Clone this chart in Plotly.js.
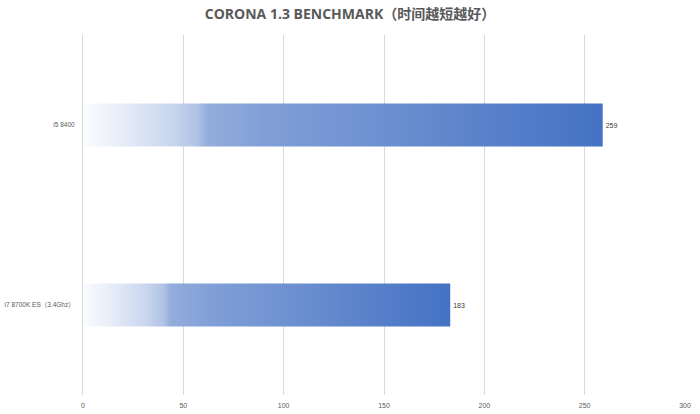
<!DOCTYPE html>
<html>
<head>
<meta charset="utf-8">
<script src="https://cdn.plot.ly/plotly-3.0.1.min.js"></script>
<style>html,body{margin:0;padding:0;background:#fff;}#chart{width:700px;height:414px;}</style>
</head>
<body>
<div id="chart"></div>
<script>
const categories = ['i7 8700K ES（3.4Ghz）', 'i5 8400'];
const times = [183, 259];
const xTicks = [0, 50, 100, 150, 200, 250, 300];
const chartTitle = 'CORONA 1.3 BENCHMARK（时间越短越好）';

const trace = {
  type: 'bar',
  orientation: 'h',
  y: categories,
  x: times,
  text: times.map(String),
  textposition: 'outside',
  cliponaxis: false,
  textfont: {size: 7, color: '#404040', family: 'Liberation Sans, Noto Sans CJK SC'},
  marker: {color: '#4472c4', line: {width: 0}},
  width: 0.24,
  hoverinfo: 'none'
};

const layout = {
  width: 700, height: 414,
  margin: {l: 83, r: 15, t: 35, b: 19},
  paper_bgcolor: '#fff', plot_bgcolor: '#fff',
  showlegend: false,
  title: {
    text: '<b>' + chartTitle + '</b>',
    x: 0.5, xanchor: 'center', y: 0.965, yanchor: 'middle',
    font: {size: 14, color: '#595959', family: 'Open Sans, Noto Sans CJK SC, sans-serif'}
  },
  xaxis: {
    range: [0, 300],
    tickvals: xTicks,
    ticktext: xTicks.map(String),
    showgrid: true, gridcolor: '#d9d9d9', gridwidth: 1,
    zeroline: false, showline: false, ticks: '',
    ticklabelstandoff: 5,
    tickfont: {size: 7, color: '#595959', family: 'Liberation Sans, sans-serif'},
    fixedrange: true
  },
  yaxis: {
    type: 'category',
    showgrid: false, zeroline: false,
    showline: true, linecolor: '#d9d9d9', linewidth: 1,
    ticks: '', ticklabelstandoff: 6,
    tickfont: {size: 6.5, color: '#595959', family: 'Liberation Sans, Noto Sans CJK SC, sans-serif'},
    fixedrange: true
  }
};

Plotly.newPlot('chart', [trace], layout, {staticPlot: true, displayModeBar: false}).then(function (gd) {
  const ns = 'http://www.w3.org/2000/svg';
  const svg = gd.querySelector('svg.main-svg');
  let defs = svg.querySelector('defs');
  if (!defs) { defs = document.createElementNS(ns, 'defs'); svg.insertBefore(defs, svg.firstChild); }
  const grad = document.createElementNS(ns, 'linearGradient');
  grad.setAttribute('id', 'barGrad');
  grad.setAttribute('x1', '0'); grad.setAttribute('y1', '0');
  grad.setAttribute('x2', '1'); grad.setAttribute('y2', '0');
  const stops = [
    [0, '#fafcff'], [0.08, '#e6ecf7'], [0.17, '#c9d6ee'], [0.22, '#b0c2e5'],
    [0.24, '#93acdb'], [0.35, '#819fd7'], [0.6, '#6a8ecf'], [1, '#4472c4']
  ];
  stops.forEach(function (s) {
    const st = document.createElementNS(ns, 'stop');
    st.setAttribute('offset', s[0]);
    st.setAttribute('stop-color', s[1]);
    grad.appendChild(st);
  });
  defs.appendChild(grad);
  gd.querySelectorAll('.barlayer .point path').forEach(function (p) {
    p.style.fill = 'url(#barGrad)';
  });
});
</script>
</body>
</html>
